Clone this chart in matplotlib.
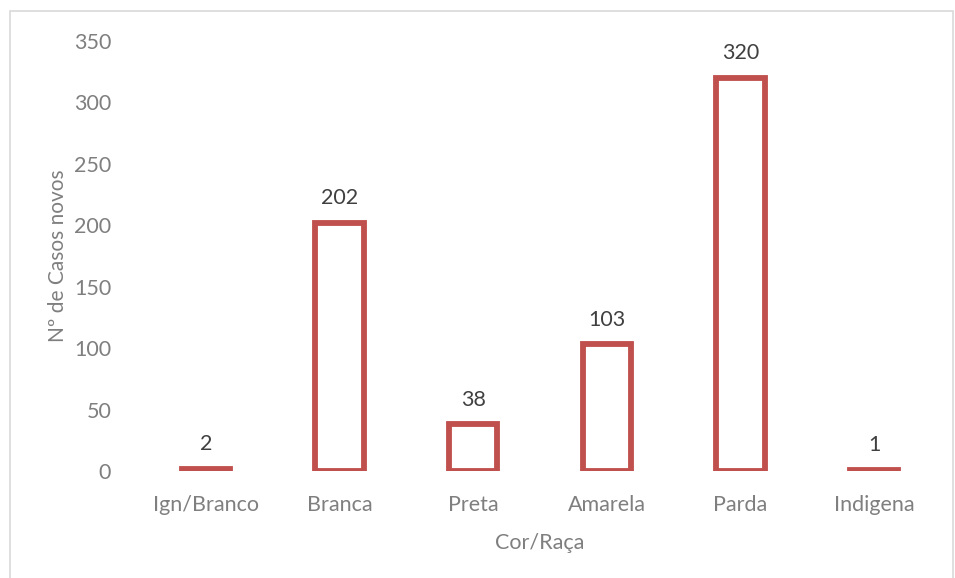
import matplotlib
matplotlib.use('Agg')
import matplotlib.pyplot as plt
from matplotlib.patches import Rectangle

plt.rcParams['font.family'] = ['Lato', 'DejaVu Sans']

categorias = ['Ign/Branco', 'Branca', 'Preta', 'Amarela', 'Parda', 'Indigena']
casos = [2, 202, 38, 103, 320, 1]
yticks = [0, 50, 100, 150, 200, 250, 300, 350]

vermelho = '#c0504d'
cinza = '#7f7f7f'
fs = 15.5

fig = plt.figure(figsize=(9.55, 5.78), dpi=100)
ax = fig.add_axes([139 / 955, 1 - 471 / 578, 802 / 955, 430 / 578])

x = list(range(len(categorias)))
ax.bar(x, casos, width=0.36, facecolor='none', edgecolor=vermelho, linewidth=4.2)

for xi, v in zip(x, casos):
    ax.text(xi, v + 12, str(v), ha='center', va='bottom', fontsize=fs, color='#404040')

ax.set_xlim(-0.5, len(categorias) - 0.5)
ax.set_ylim(0, 350)
ax.set_yticks(yticks)
ax.set_xticks(x)
ax.set_xticklabels(categorias)
ax.tick_params(length=0, labelsize=fs, colors=cinza)
ax.tick_params(axis='x', pad=17)
ax.tick_params(axis='y', pad=20)
for s in ax.spines.values():
    s.set_visible(False)

ax.set_ylabel('Nº de Casos novos', fontsize=fs - 0.5, color=cinza)
ax.yaxis.set_label_coords(-0.088, 0.5)
ax.set_xlabel('Cor/Raça', fontsize=fs, color=cinza, labelpad=13)

# moldura da área do gráfico
fig.patches.append(Rectangle((10 / 955, -0.01), 943 / 955, 1 - 11 / 578 + 0.01,
                             transform=fig.transFigure, fill=False,
                             edgecolor='#d9d9d9', linewidth=1.2))

fig.savefig('out.png', dpi=100)
